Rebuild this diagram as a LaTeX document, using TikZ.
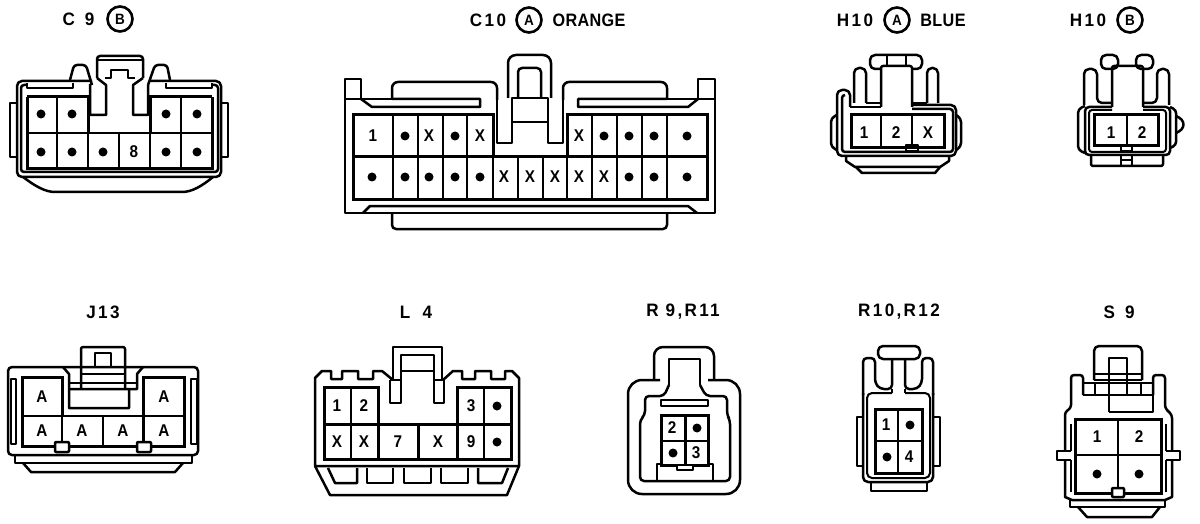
\documentclass[tikz,border=0pt]{standalone}
\usepackage{fontspec}
\newfontfamily\chartfont[LetterSpace=13,FakeStretch=0.95]{Liberation Sans}
\newfontfamily\wordfont[LetterSpace=2,FakeStretch=0.9]{Liberation Sans}
\newfontfamily\cellfont[FakeStretch=0.9]{Liberation Sans}
\tikzset{
  hdr/.style={inner sep=0pt,font=\chartfont\bfseries\fontsize{18}{18}\selectfont},
  hdrword/.style={inner sep=0pt,font=\wordfont\bfseries\fontsize{18}{18}\selectfont},
  ringlet/.style={draw,circle,line width=2.6pt,minimum size=25pt,inner sep=0pt,font=\cellfont\bfseries\fontsize{15}{15}\selectfont},
  cellno/.style={inner sep=0pt,font=\cellfont\bfseries\fontsize{17}{17}\selectfont},
  pindot/.style={circle,fill=black,minimum size=9pt,inner sep=0pt},
  wall/.style={line width=2.5pt,line join=round},
  grid/.style={line width=3pt,line join=miter},
  slim/.style={line width=2pt}
}
\begin{document}
\begin{tikzpicture}[x=1pt,y=-1pt]
  \useasboundingbox (0,0) rectangle (1200,524);

  % C 9
  \node[hdr] (c9) at (78.5,19) {C\kern3pt\ 9};
  \node[ringlet] (c9b) at (120,19) {B};
  \draw[wall,rounded corners=5pt] (92,81) -- (17,81) -- (17,177) -- (221,177) -- (221,81) -- (150,81);
  \draw[wall,rounded corners=3pt] (27,85) -- (21,85) -- (21,172) -- (218,172) -- (218,85) -- (212,85);
  \draw[wall] (10,103) rectangle (17,157) (221,103) rectangle (228,157);
  \draw[wall] (23,177) .. controls (35,186) and (45,192) .. (55,192) -- (182,192) .. controls (192,192) and (202,186) .. (213,177);
  \draw[wall,rounded corners=3pt] (97,78) -- (97,56) -- (143,56) -- (143,78);
  \draw[slim] (98,60) -- (142,60);
  \draw[wall] (97,78) -- (106,85) -- (106,115) -- (90,115) -- (90,84) (143,78) -- (133,85) -- (133,115) -- (148,115) -- (148,85);
  \draw[wall] (105,78) -- (111,78) -- (111,70) -- (128,70) -- (128,78) -- (135,78);
  \draw[wall,rounded corners=3pt] (70,80) -- (74,65) -- (86,65) -- (92,85);
  \draw[wall,rounded corners=3pt] (170,80) -- (167,65) -- (155,65) -- (148,85);
  \draw[wall] (27,83) -- (27,88) -- (73,88) -- (73,83) (166,83) -- (166,88) -- (212,88) -- (212,83);
  \draw[grid] (27,97) -- (88,97) -- (88,133) (150,133) -- (150,97) -- (212,97);
  \draw[grid] (27,97) -- (27,169) -- (212,169) -- (212,97);
  \draw[slim] (27,133) -- (212,133) (57,97) -- (57,169) (181,97) -- (181,169) (88,133) -- (88,169) (119,133) -- (119,169) (150,133) -- (150,169);
  \foreach \x [count=\i] in {41,72,166,197} \node[pindot] (c9a\i) at (\x,114) {};
  \foreach \x [count=\i] in {41,72,103,166,197} \node[pindot] (c9z\i) at (\x,152) {};
  \node[cellno] (c9n8) at (134,152) {8};

  % C10
  \node[hdr] (c10) at (488,20) {C10};
  \node[ringlet] (c10a) at (529,20) {A};
  \node[hdrword] (c10o) at (589,20) {ORANGE};
  \draw[wall] (497,115) -- (497,143) -- (512,143) -- (512,98) -- (548,98) -- (548,143) -- (563,143) -- (563,115);
  \draw[wall,rounded corners=6pt] (497,100) -- (497,82) -- (392,82) -- (392,100);
  \draw[wall,rounded corners=6pt] (563,100) -- (563,82) -- (667,82) -- (667,100);
  \draw[wall] (497,100) -- (497,115) (563,100) -- (563,115);
  \draw[wall] (392,99) -- (361,99) -- (361,79) -- (345,79) -- (345,213) -- (715,213) -- (715,79) -- (698,79) -- (698,99) -- (667,99);
  \draw[slim] (345,99) -- (361,99) (698,99) -- (715,99);
  \draw[wall] (361,99) -- (372,107) -- (480,107) -- (480,99) -- (392,99);
  \draw[wall] (698,99) -- (688,107) -- (578,107) -- (578,99) -- (667,99);
  \draw[wall,rounded corners=8pt] (508,98) -- (508,55) -- (551,55) -- (551,98);
  \draw[wall,rounded corners=4pt] (518,98) -- (518,68) -- (541,68) -- (541,98);
  \draw[slim] (512,122) -- (548,122);
  \draw[grid] (493,157) -- (493,115) -- (353,115) -- (353,199) -- (707,199) -- (707,115) -- (567,115) -- (567,157);
  \draw[grid] (353,157) -- (707,157);
  \foreach \x in {393,418,443,467,592,617,642,667} \draw[slim] (\x,115) -- (\x,199);
  \foreach \x in {493,518,543,567} \draw[slim] (\x,157) -- (\x,199);
  \draw[wall] (363,213) -- (370,206) -- (688,206) -- (697,213);
  \draw[wall,rounded corners=4pt] (392,213) -- (392,229) -- (667,229) -- (667,213);
  \node[cellno] (c10n1) at (373,136) {1};
  \foreach \x [count=\i] in {405,455,604,629,654,687} \node[pindot] (c10a\i) at (\x,136) {};
  \foreach \x [count=\i] in {429,480,579} \node[cellno] (c10x\i) at (\x,136) {X};
  \foreach \x [count=\i] in {372,405,429,455,480,629,654,687} \node[pindot] (c10b\i) at (\x,177) {};
  \foreach \x [count=\i] in {504,530,555,579,604} \node[cellno] (c10y\i) at (\x,177) {X};

  % H10 A
  \node[hdr] (h10) at (855,20) {H10};
  \node[ringlet] (h10a) at (897,20) {A};
  \node[hdrword] (h10l) at (943,20) {BLUE};
  \draw[wall,rounded corners=5pt] (881,69) -- (870,69) -- (870,55) -- (922,55) -- (922,69) -- (912,69);
  \draw[slim] (887,56) -- (887,66) (906,56) -- (906,66);
  \draw[wall,rounded corners=2pt] (881,107) -- (881,66) -- (912,66) -- (912,107);
  \draw[wall,rounded corners=5pt] (854,103) -- (854,68) -- (866,68) -- (866,103);
  \draw[wall,rounded corners=5pt] (927,103) -- (927,68) -- (938,68) -- (938,103);
  \draw[wall] (866,103) -- (881,103) (912,103) -- (927,103);
  \draw[wall] (850,107) -- (881,107);
  \draw[wall,rounded corners=5pt] (850,107) -- (850,90) -- (837,90) -- (837,156) -- (956,156) -- (956,105) -- (912,105);
  \draw[wall,rounded corners=3pt] (845,95) -- (842,95) -- (842,152) -- (953,152) -- (953,109) -- (912,109);
  \draw[wall,rounded corners=4pt] (837,115) -- (831,118) -- (831,147) -- (837,150) (956,115) -- (961,118) -- (961,147) -- (956,150);
  \draw[wall] (846,156) -- (846,161) -- (855,167) -- (940,167) -- (949,161) -- (949,156);
  \draw[wall] (856,167) -- (862,173) -- (935,173) -- (940,167);
  \draw[grid] (851,115) rectangle (944,148);
  \draw[slim] (881,115) -- (881,148) (912,115) -- (912,148);
  \draw[wall] (906,145) rectangle (918,151);
  \node[cellno] (h10n1) at (864,133) {1};
  \node[cellno] (h10n2) at (896,133) {2};
  \node[cellno] (h10x) at (928,133) {X};

  % H10 B
  \node[hdr] (h10r) at (1088,20) {H10};
  \node[ringlet] (h10b) at (1130,20) {B};
  \draw[wall,rounded corners=5pt] (1101,55) rectangle (1118,69);
  \draw[wall,rounded corners=5pt] (1136,55) rectangle (1153,69);
  \draw[wall,rounded corners=2pt] (1112,107) -- (1112,66) -- (1143,66) -- (1143,107);
  \draw[wall,rounded corners=5pt] (1084,105) -- (1084,69) -- (1097,69) -- (1097,103) -- (1112,103);
  \draw[wall,rounded corners=5pt] (1169,105) -- (1169,69) -- (1157,69) -- (1157,103) -- (1143,103);
  \draw[wall,rounded corners=4pt] (1112,107) -- (1085,107) -- (1085,155) -- (1170,155) -- (1170,107) -- (1143,107);
  \draw[slim,rounded corners=3pt] (1112,110) -- (1089,110) -- (1089,152) -- (1166,152) -- (1166,110) -- (1143,110);
  \draw[wall,rounded corners=4pt] (1085,106) -- (1078,109) -- (1078,150) -- (1085,153);
  \draw[wall,rounded corners=3pt] (1170,107) -- (1176,110) -- (1176,145) -- (1170,148);
  \draw[wall] (1176,116) .. controls (1186,120) and (1186,129) .. (1176,133);
  \draw[wall,rounded corners=2pt] (1091,155) -- (1091,166) -- (1163,166) -- (1163,155);
  \draw[slim] (1121,155) -- (1121,166) (1132,155) -- (1132,166) (1121,160) -- (1132,160);
  \draw[grid] (1094,115) rectangle (1158,146);
  \draw[slim] (1127,115) -- (1127,146);
  \draw[wall] (1121,146) rectangle (1132,151);
  \node[cellno] (h10m1) at (1111,133) {1};
  \node[cellno] (h10m2) at (1142,133) {2};

  % J13
  \node[hdr] (j13) at (103,312) {J13};
  \draw[wall,rounded corners=4pt] (8,455) rectangle (198,367);
  \draw[wall] (16,379) -- (11,379) -- (11,444) -- (16,444) -- cycle (191,379) rectangle (197,444);
  \draw[wall] (15,455) -- (15,463) -- (192,463) -- (192,455);
  \draw[wall] (23,463) -- (31,472) -- (175,472) -- (183,463);
  \draw[wall,rounded corners=2pt] (81,389) -- (81,347) -- (125,347) -- (125,389);
  \draw[wall] (95,367) -- (95,353) -- (111,353) -- (111,367);
  \draw[wall] (63,367) -- (69,374) -- (69,408) -- (129,408) -- (129,389);
  \draw[wall] (143,367) -- (137,374) -- (137,389) -- (69,389);
  \draw[slim] (69,383) -- (137,383) (81,374) -- (125,374);
  \draw[grid] (62,416) -- (62,377) -- (22,377) -- (22,446) -- (184,446) -- (184,377) -- (143,377) -- (143,446);
  \draw[slim] (22,416) -- (184,416) (62,416) -- (62,446) (103,416) -- (103,446);
  \draw[wall,fill=white,rounded corners=1pt] (55,442) rectangle (69,452);
  \draw[wall,fill=white,rounded corners=1pt] (137,442) rectangle (151,452);
  \foreach \x/\y [count=\i] in {42/397,164/397,42/431,82/431,123/431,164/431}
    \node[cellno] (j13a\i) at (\x,\y) {A};

  % L 4
  \node[hdr] (l4) at (416,312) {L\kern5pt\ 4};
  \draw[wall] (393,380) -- (382,371) -- (373,371) -- (373,379) -- (358,379) -- (358,371) -- (342,371) -- (342,379) -- (331,379) -- (331,371) -- (322,371) -- (315,378) -- (315,466) -- (519,466) -- (519,378) -- (512,371) -- (505,371) -- (505,379) -- (491,379) -- (491,371) -- (475,371) -- (475,379) -- (462,379) -- (462,371) -- (453,371) -- (443,380);
  \draw[wall] (393,380) -- (393,347) -- (442,347) -- (442,380);
  \draw[wall] (401,380) -- (401,355) -- (434,355) -- (434,380);
  \draw[wall] (401,371) -- (434,371);
  \draw[wall] (390,380) -- (390,403) -- (401,403) -- (401,380) -- (390,380);
  \draw[wall] (434,380) -- (434,403) -- (444,403) -- (444,380) -- (434,380);
  \draw[grid] (378,424) -- (378,387) -- (324,387) -- (324,459) -- (511,459) -- (511,387) -- (457,387) -- (457,459);
  \draw[grid] (324,424) -- (511,424) (378,424) -- (378,459) (418,424) -- (418,459);
  \draw[slim] (351,387) -- (351,459) (484,387) -- (484,459);
  \draw[wall] (315,466) -- (330,495) -- (507,495) -- (519,466);
  \draw[wall] (328,468) -- (335,483) -- (357,483) -- (357,468);
  \draw[wall] (367,468) -- (367,483) -- (393,483) -- (393,468);
  \draw[wall] (404,468) -- (404,483) -- (431,483) -- (431,468);
  \draw[wall] (441,468) -- (441,483) -- (468,483) -- (468,468);
  \draw[wall] (478,468) -- (478,483) -- (502,483) -- (508,468);
  \foreach \x/\y/\t [count=\i] in {337/406/1,364/406/2,471/406/3,337/442/X,364/442/X,398/442/7,438/442/X,471/442/9}
    \node[cellno] (l4n\i) at (\x,\y) {\t};
  \node[pindot] (l4p1) at (497,406) {};
  \node[pindot] (l4p2) at (497,442) {};

  % R 9,R11
  \node[hdr] (r9) at (683,312) {R 9,R11};
  \draw[wall,rounded corners=9pt] (654,380) -- (654,347) -- (714,347) -- (714,380);
  \draw[wall,rounded corners=14pt] (660,380) -- (628,380) -- (628,494) -- (740,494) -- (740,380) -- (708,380);
  \draw[wall] (669,385) -- (669,359) -- (700,359) -- (700,385);
  \draw[wall,rounded corners=4pt] (669,385) -- (664,396) -- (645,396) -- (645,415) -- (640,420) -- (640,481) -- (730,481) -- (730,420) -- (727,415) -- (727,396) -- (706,396) -- (700,385);
  \draw[wall] (661,400) rectangle (708,406);
  \draw[grid] (661,415) rectangle (708,465);
  \draw[grid] (685,415) -- (685,465);
  \draw[slim] (661,441) -- (708,441);
  \draw[wall] (661,464) -- (657,464) -- (657,481) (708,464) -- (713,464) -- (713,481);
  \draw[wall,fill=white] (677,465) rectangle (693,470);
  \node[cellno] (r9n2) at (672,428) {2};
  \node[cellno] (r9n3) at (696,453) {3};
  \node[pindot] (r9p1) at (697,428) {};
  \node[pindot] (r9p2) at (673,453) {};

  % R10,R12
  \node[hdr] (r10) at (899,312) {R10,R12};
  \draw[wall,rounded corners=5pt] (878,346) rectangle (920,359);
  \draw[wall,rounded corners=4pt] (892,359) -- (892,389) -- (880,389) -- (875,383) -- (875,358) -- (863,358) -- (863,395);
  \draw[wall,rounded corners=4pt] (905,359) -- (905,389) -- (917,389) -- (922,383) -- (922,358) -- (933,358) -- (933,395);
  \draw[wall] (892,389) -- (892,393) (905,389) -- (905,393);
  \draw[slim,rounded corners=5pt] (892,393) -- (867,393) -- (867,478) -- (930,478) -- (930,393) -- (905,393);
  \draw[wall,rounded corners=5pt] (863,393) -- (863,482) -- (933,482) -- (933,393);
  \draw[wall] (863,417) -- (857,417) -- (857,466) -- (863,466) (933,417) -- (940,417) -- (940,466) -- (933,466);
  \draw[wall] (871,482) -- (871,491) -- (927,491) -- (927,482);
  \draw[grid] (875,409) rectangle (922,473);
  \draw[slim] (898,409) -- (898,473) (875,441) -- (922,441);
  \node[cellno] (r10n1) at (886,425) {1};
  \node[cellno] (r10n4) at (909,457) {4};
  \node[pindot] (r10p1) at (910,425) {};
  \node[pindot] (r10p2) at (887,457) {};

  % S 9
  \node[hdr] (s9) at (1119,312) {S\kern3pt\ 9};
  \draw[wall,rounded corners=5pt] (1094,380) -- (1094,346) -- (1142,346) -- (1142,380);
  \draw[wall] (1109,412) -- (1109,358) -- (1127,358) -- (1127,395);
  \draw[wall] (1094,374) -- (1142,374) (1094,380) -- (1142,380);
  \draw[wall] (1084,383) -- (1153,383) (1083,395) -- (1153,395) (1153,383) -- (1153,412) -- (1109,412);
  \draw[slim] (1095,383) -- (1095,395) (1141,383) -- (1141,395);
  \draw[wall,rounded corners=3pt] (1065,420) -- (1065,412) -- (1071,408) -- (1071,375) -- (1083,375) -- (1083,395);
  \draw[wall,rounded corners=3pt] (1172,420) -- (1172,415) -- (1165,408) -- (1165,375) -- (1153,375) -- (1153,395);
  \draw[wall] (1065,420) -- (1065,451) (1065,460) -- (1065,497) -- (1072,500) -- (1165,500) -- (1172,497) -- (1172,460) (1172,451) -- (1172,420);
  \draw[slim] (1071,424) -- (1071,451) (1071,460) -- (1071,492) (1166,424) -- (1166,451) (1166,460) -- (1166,492);
  \draw[wall] (1071,451) -- (1057,451) -- (1057,460) -- (1071,460);
  \draw[wall] (1166,451) -- (1180,451) -- (1180,460) -- (1166,460);
  \draw[wall] (1070,500) -- (1070,507) -- (1165,507) -- (1165,500);
  \draw[wall] (1078,507) -- (1087,517) -- (1152,517) -- (1160,507);
  \draw[grid] (1075,419) rectangle (1161,493);
  \draw[slim] (1118,419) -- (1118,493) (1075,455) -- (1161,455);
  \draw[wall,fill=white,rounded corners=1pt] (1112,488) rectangle (1124,497);
  \node[cellno] (s9n1) at (1097,437) {1};
  \node[cellno] (s9n2) at (1139,437) {2};
  \node[pindot] (s9p1) at (1097,474) {};
  \node[pindot] (s9p2) at (1139,474) {};
\end{tikzpicture}
\end{document}
